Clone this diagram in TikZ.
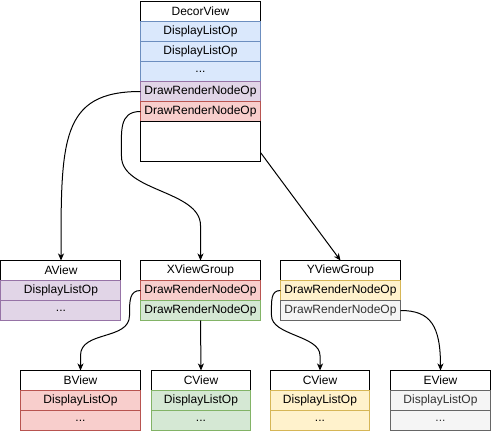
\documentclass[tikz,border=0pt]{standalone}
\usepackage{fontspec}
\setmainfont{Liberation Sans}
\usepackage{tikz}
\usetikzlibrary{matrix,arrows.meta}
\definecolor{blueFill}{HTML}{DAE8FC}
\definecolor{blueLine}{HTML}{6C8EBF}
\definecolor{purpleFill}{HTML}{E1D5E7}
\definecolor{purpleLine}{HTML}{9673A6}
\definecolor{redFill}{HTML}{F8CECC}
\definecolor{redLine}{HTML}{B85450}
\definecolor{greenFill}{HTML}{D5E8D4}
\definecolor{greenLine}{HTML}{82B366}
\definecolor{yellowFill}{HTML}{FFF2CC}
\definecolor{yellowLine}{HTML}{D6B656}
\definecolor{grayFill}{HTML}{F5F5F5}
\definecolor{grayLine}{HTML}{666666}
\definecolor{grayText}{HTML}{333333}

\begin{document}
\begin{tikzpicture}[x=1pt,y=-1pt,line width=1pt,
	oplist/.style={matrix of nodes,
		nodes in empty cells,
		inner sep=0pt,outer sep=0pt,
		row sep=-1pt,
		anchor=north west,
		nodes={draw=black,fill=white,inner sep=0pt,outer sep=0pt,text width=#1,align=center,minimum height=20pt,font=\fontsize{12}{14}\selectfont}},
	bluerow/.style={nodes={fill=blueFill,draw=blueLine}},
	purplerow/.style={nodes={fill=purpleFill,draw=purpleLine}},
	redrow/.style={nodes={fill=redFill,draw=redLine}},
	greenrow/.style={nodes={fill=greenFill,draw=greenLine}},
	yellowrow/.style={nodes={fill=yellowFill,draw=yellowLine}},
	grayrow/.style={nodes={fill=grayFill,draw=grayLine,text=grayText}},
	link/.style={-{Stealth[length=7pt,width=6pt,inset=2pt]}}
	]
			\useasboundingbox (0,0) rectangle (491,431);
			% top list
			\matrix (decor) [oplist=120pt,
				row 2/.style={bluerow},row 3/.style={bluerow},row 4/.style={bluerow},
				row 5/.style={purplerow},row 6/.style={redrow},
				row 7/.style={nodes={minimum height=40pt}}] at (140,1) {
				DecorView \\
				DisplayListOp \\
				DisplayListOp \\
				... \\
				DrawRenderNodeOp \\
				DrawRenderNodeOp \\
				\\
			};
			% middle lists
			\matrix (aview) [oplist=120pt,row 2/.style={purplerow},row 3/.style={purplerow}] at (0.5,260) {
				AView \\
				DisplayListOp \\
				... \\
			};
			\matrix (xview) [oplist=120pt,row 2/.style={redrow},row 3/.style={greenrow}] at (140,260) {
				XViewGroup \\
				DrawRenderNodeOp \\
				DrawRenderNodeOp \\
			};
			\matrix (yview) [oplist=120pt,row 2/.style={yellowrow},row 3/.style={grayrow}] at (280,260) {
				YViewGroup \\
				DrawRenderNodeOp \\
				DrawRenderNodeOp \\
			};
			% bottom lists
			\matrix (bview) [oplist=120pt,row 2/.style={redrow},row 3/.style={redrow}] at (20,370) {
				BView \\
				DisplayListOp \\
				... \\
			};
			\matrix (cviewg) [oplist=99pt,row 2/.style={greenrow},row 3/.style={greenrow}] at (151,370) {
				CView \\
				DisplayListOp \\
				... \\
			};
			\matrix (cviewy) [oplist=99pt,row 2/.style={yellowrow},row 3/.style={yellowrow}] at (270,370) {
				CView \\
				DisplayListOp \\
				... \\
			};
			\matrix (eview) [oplist=100pt,row 2/.style={grayrow},row 3/.style={grayrow}] at (390,370) {
				EView \\
				DisplayListOp \\
				... \\
			};
			% connectors
			\draw[link] (decor-5-1.west) .. controls +(-80,0) and +(0,-120) .. (aview-1-1.north);
			\draw[link] (decor-6-1.west) .. controls +(-22,0) and +(0,-25) .. ([shift={(-19,45)}]decor-6-1.west)
				.. controls +(0,35) and +(0,-35) .. ([shift={(0,-35)}]xview-1-1.north) -- (xview-1-1.north);
			\draw[link] ([shift={(0,11)}]decor-7-1.east) -- (yview-1-1.north);
			\draw[link] (xview-2-1.west) .. controls +(-11,0) and +(0,-15) .. ([shift={(-11,25)}]xview-2-1.west)
				.. controls +(0,25) and +(0,-25) .. ([shift={(0,-15)}]bview-1-1.north) -- (bview-1-1.north);
			\draw[link] (xview-3-1.south) -- (cviewg-1-1.north);
			\draw[link] (yview-2-1.west) .. controls +(-10,0) and +(0,-15) .. ([shift={(-9,25)}]yview-2-1.west)
				.. controls +(0,20) and +(0,-20) .. ([shift={(0,-15)}]cviewy-1-1.north) -- (cviewy-1-1.north);
			\draw[link] (yview-3-1.east) .. controls +(30,0) and +(0,-45) .. (eview-1-1.north);
		\end{tikzpicture}
\end{document}
